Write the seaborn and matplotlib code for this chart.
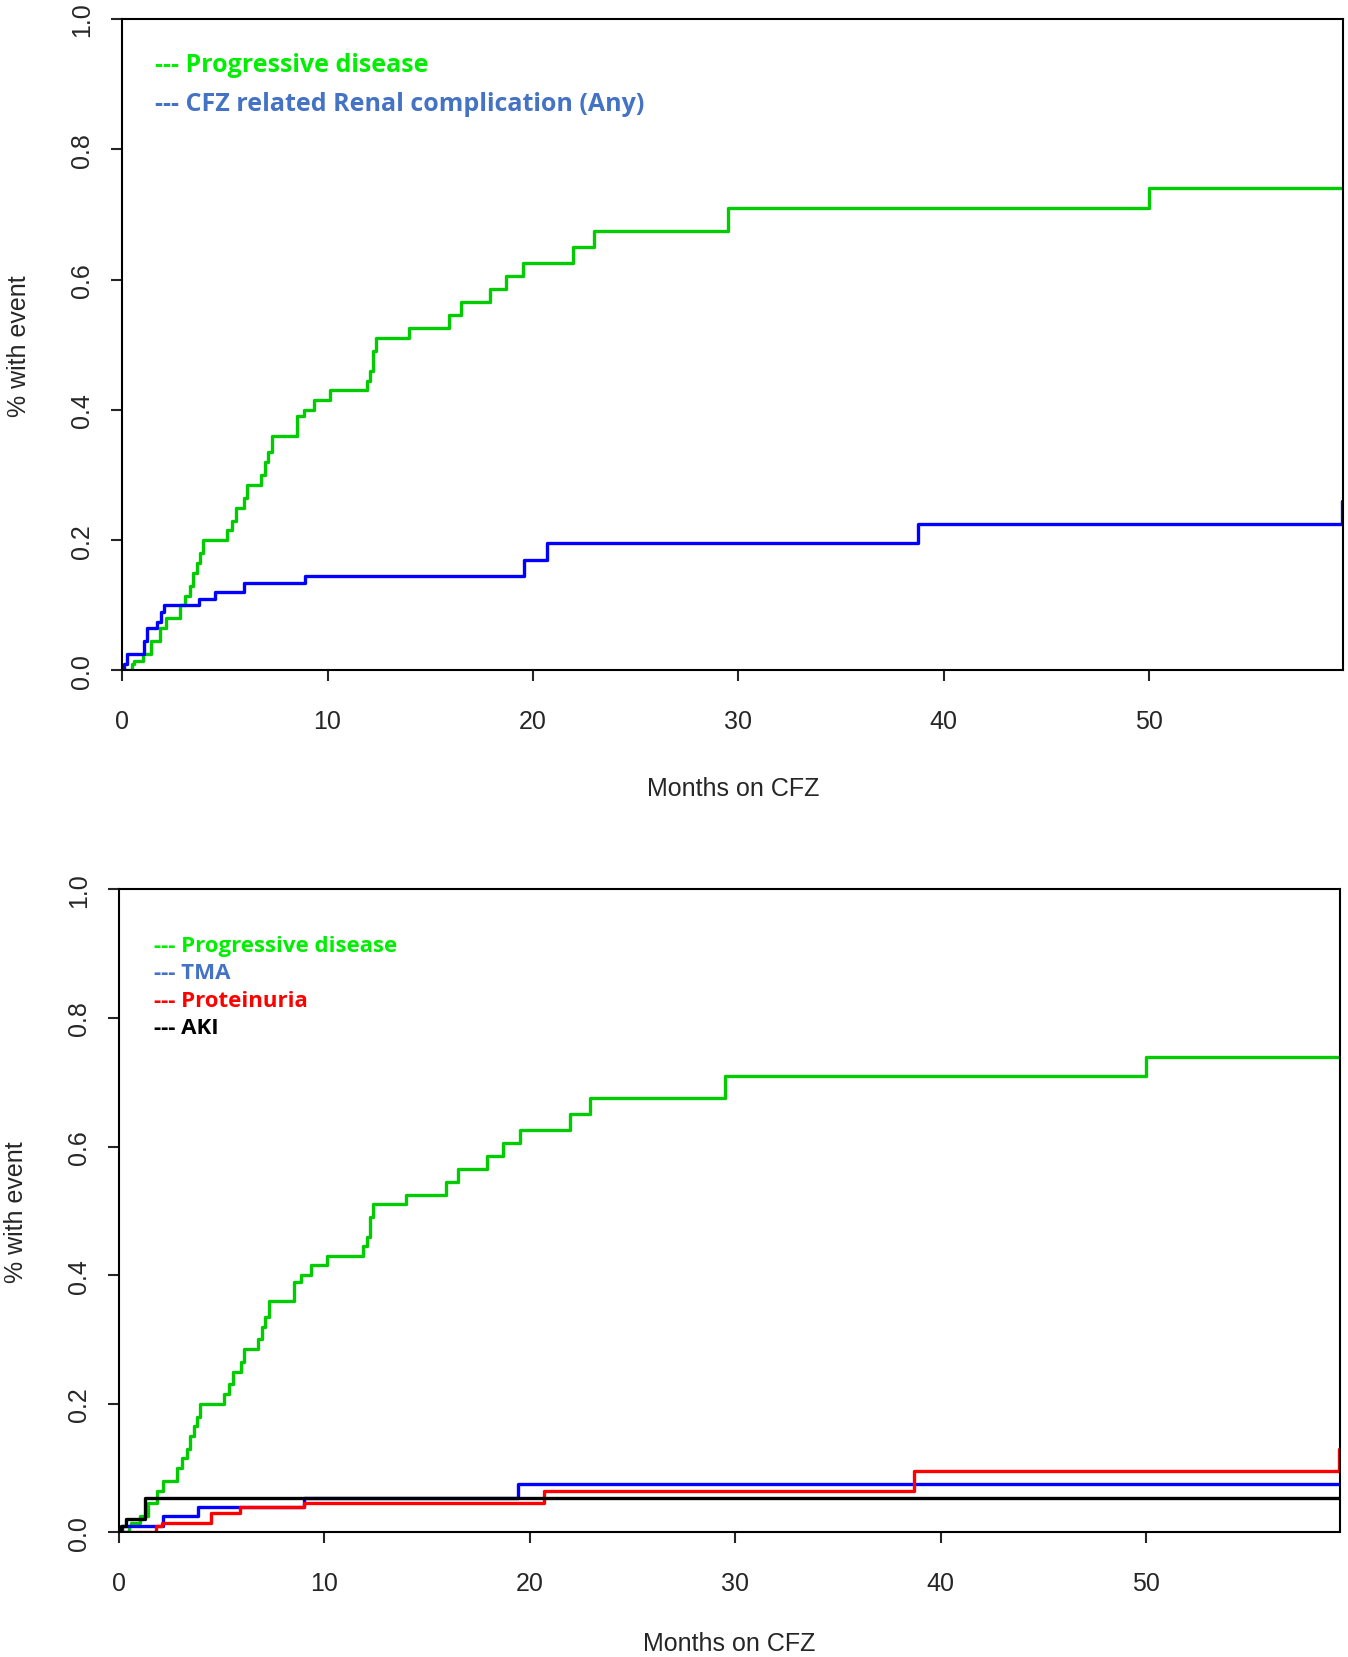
import seaborn as sns
import matplotlib.pyplot as plt
import numpy as np
import pandas as pd

# data (cumulative incidence, months on CFZ)
pd_months = [0, 0.5, 0.6, 1.0, 1.4, 1.85, 2.15, 2.8, 3.05, 3.3, 3.45, 3.65, 3.8, 3.95, 5.1, 5.35, 5.55,
             5.95, 6.1, 6.75, 6.95, 7.1, 7.3, 8.5, 8.85, 9.35, 10.1, 11.9, 12.05, 12.2, 12.35, 13.95,
             15.9, 16.5, 17.9, 18.7, 19.5, 21.95, 22.95, 29.5, 50.0, 59.5]
pd_event = [0, 0.01, 0.015, 0.025, 0.045, 0.065, 0.08, 0.1, 0.115, 0.13, 0.15, 0.165, 0.18, 0.2, 0.215,
            0.23, 0.25, 0.265, 0.285, 0.3, 0.32, 0.335, 0.36, 0.39, 0.4, 0.415, 0.43, 0.445, 0.46, 0.49,
            0.51, 0.525, 0.545, 0.565, 0.585, 0.605, 0.625, 0.65, 0.675, 0.71, 0.74, 0.74]

renal_months = [0, 0.1, 0.26, 1.08, 1.23, 1.7, 1.9, 2.06, 3.76, 4.53, 5.92, 8.9, 19.55, 20.68, 38.73, 59.4, 59.6]
renal_event = [0, 0.01, 0.025, 0.045, 0.065, 0.075, 0.09, 0.1, 0.11, 0.12, 0.135, 0.145, 0.17, 0.195, 0.225, 0.26, 0.26]

tma_months = [0, 0.15, 2.16, 3.86, 9.0, 19.4, 59.5]
tma_event = [0, 0.01, 0.025, 0.04, 0.053, 0.075, 0.075]

prot_months = [0, 1.8, 2.1, 4.5, 5.9, 9.0, 20.7, 38.7, 59.4, 59.6]
prot_event = [0, 0.01, 0.015, 0.03, 0.04, 0.045, 0.065, 0.095, 0.13, 0.13]

aki_months = [0, 0.1, 0.35, 1.25, 59.5]
aki_event = [0, 0.01, 0.02, 0.054, 0.054]

x_ticks = [0, 10, 20, 30, 40, 50]
y_ticks = [0.0, 0.2, 0.4, 0.6, 0.8, 1.0]


def long_df(pairs):
    frames = []
    for name, m, e in pairs:
        frames.append(pd.DataFrame({'month': m, 'event': e, 'series': name}))
    return pd.concat(frames, ignore_index=True)


sns.set_style('ticks')
plt.rcParams['font.family'] = ['Liberation Sans', 'DejaVu Sans']

fig = plt.figure(figsize=(13.48, 16.58), dpi=100)
ax1 = fig.add_axes([0.0906, 0.5950, 0.9060, 0.3930])
ax2 = fig.add_axes([0.0883, 0.0752, 0.9060, 0.3878])

top = long_df([('Progressive disease', pd_months, pd_event),
               ('Renal', renal_months, renal_event)])
bot = long_df([('Progressive disease', pd_months, pd_event),
               ('TMA', tma_months, tma_event),
               ('Proteinuria', prot_months, prot_event),
               ('AKI', aki_months, aki_event)])

pal = {'Progressive disease': '#00CC00', 'Renal': '#0000FF', 'TMA': '#0000FF',
       'Proteinuria': '#FF0000', 'AKI': '#000000'}

sns.lineplot(data=top, x='month', y='event', hue='series', palette=pal, estimator=None,
             sort=False, drawstyle='steps-post', linewidth=2.4, legend=False, ax=ax1)
sns.lineplot(data=bot, x='month', y='event', hue='series', palette=pal, estimator=None,
             sort=False, drawstyle='steps-post', linewidth=2.4, legend=False, ax=ax2)

for ax in (ax1, ax2):
    ax.set_xlim(0, 59.45)
    ax.set_ylim(0, 1.0)
    ax.set_xticks(x_ticks)
    ax.set_yticks(y_ticks)
    ax.set_yticklabels([f'{v:.1f}' for v in y_ticks], rotation=90, va='center')
    ax.tick_params(direction='out', length=8, width=1.5, labelsize=18, pad=20)
    ax.tick_params(axis='y', pad=12)
    for s in ax.spines.values():
        s.set_visible(True)
        s.set_linewidth(1.5)
        s.set_color('black')
    ax.set_ylabel('% with event', fontsize=18, labelpad=28)

ax1.set_xlabel('Months on CFZ', fontsize=18, labelpad=31)
ax2.set_xlabel('Months on CFZ', fontsize=18, labelpad=26)

leg_font = ['Open Sans', 'DejaVu Sans']
ax1.text(0.027, 0.930, '--- Progressive disease', color='#00EE00', fontsize=18, fontweight='bold',
         family=leg_font, transform=ax1.transAxes, va='center')
ax1.text(0.027, 0.870, '--- CFZ related Renal complication (Any)', color='#4472C4', fontsize=18,
         fontweight='bold', family=leg_font, transform=ax1.transAxes, va='center')

bot_labels = ['--- Progressive disease', '--- TMA', '--- Proteinuria', '--- AKI']
bot_colors = ['#00EE00', '#4472C4', '#FF0000', '#000000']
bot_y = [0.913, 0.870, 0.827, 0.785]
for lab, col, yy in zip(bot_labels, bot_colors, bot_y):
    ax2.text(0.029, yy, lab, color=col, fontsize=16, fontweight='bold', family=leg_font,
             transform=ax2.transAxes, va='center')

plt.savefig('out.png', dpi=100)
